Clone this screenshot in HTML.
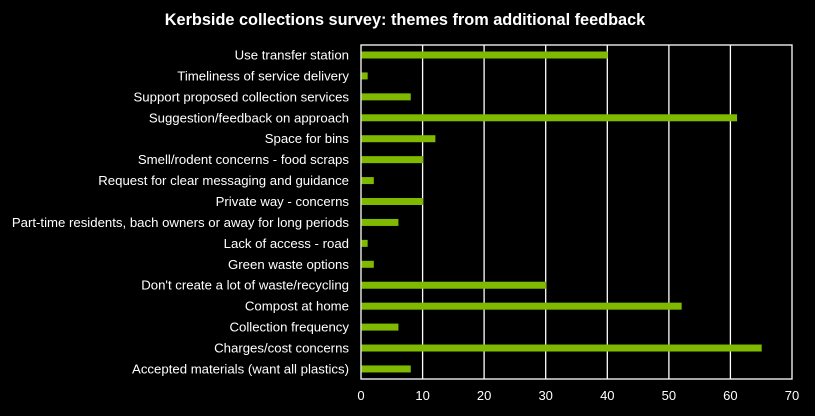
<!DOCTYPE html>
<html><head><style>body{margin:0;background:#000;}</style></head><body>
<svg width="815" height="411" xmlns="http://www.w3.org/2000/svg" font-family="Liberation Sans, Arial, sans-serif">
<rect width="815" height="411" fill="#000"/>
<text x="405" y="25" fill="#fff" font-size="16.3" font-weight="bold" text-anchor="middle">Kerbside collections survey: themes from additional feedback</text>
<g stroke="#fff" stroke-width="1.3">
<line x1="422.6" y1="45" x2="422.6" y2="379"/>
<line x1="484.1" y1="45" x2="484.1" y2="379"/>
<line x1="545.7" y1="45" x2="545.7" y2="379"/>
<line x1="607.3" y1="45" x2="607.3" y2="379"/>
<line x1="668.9" y1="45" x2="668.9" y2="379"/>
<line x1="730.4" y1="45" x2="730.4" y2="379"/>
<rect x="361" y="45" width="431" height="334" fill="none"/>
</g>
<g fill="#7fba00" id="bars"></g>
<g fill="#fff" font-size="13.2" text-anchor="end" id="labels"></g>
<g fill="#fff" font-size="13" text-anchor="middle">
<text x="361" y="400">0</text><text x="422.6" y="400">10</text><text x="484.1" y="400">20</text><text x="545.7" y="400">30</text><text x="607.3" y="400">40</text><text x="668.9" y="400">50</text><text x="730.4" y="400">60</text><text x="792" y="400">70</text>
</g>
<script>
var d=[["Use transfer station",40],["Timeliness of service delivery",1],["Support proposed collection services",8],["Suggestion/feedback on approach",61],["Space for bins",12],["Smell/rodent concerns - food scraps",10],["Request for clear messaging and guidance",2],["Private way - concerns",10],["Part-time residents, bach owners or away for long periods",6],["Lack of access - road",1],["Green waste options",2],["Don't create a lot of waste/recycling",30],["Compost at home",52],["Collection frequency ",6],["Charges/cost concerns",65],["Accepted materials (want all plastics)",8]];
var ns="http://www.w3.org/2000/svg",b=document.getElementById("bars"),l=document.getElementById("labels");
d.forEach(function(r,i){var cy=55+i*20.93;
var e=document.createElementNS(ns,"rect");e.setAttribute("x",361.5);e.setAttribute("y",cy-3.5);e.setAttribute("height",7);e.setAttribute("width",r[1]*6.157);b.appendChild(e);
var t=document.createElementNS(ns,"text");t.setAttribute("x",349);t.setAttribute("y",cy+4.5);t.textContent=r[0];l.appendChild(t);});
</script>
</svg>
</body></html>
